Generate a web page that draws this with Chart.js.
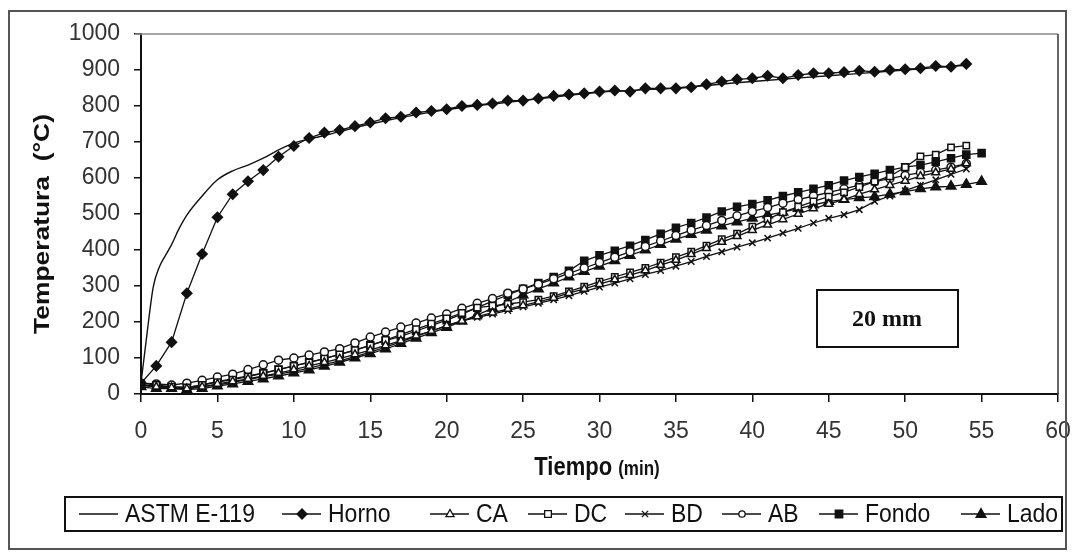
<!DOCTYPE html>
<html>
<head>
<meta charset="utf-8">
<script src="https://cdn.jsdelivr.net/npm/chart.js@4/dist/chart.umd.min.js"></script>
<style>
  html, body { margin: 0; padding: 0; background: #fff; }
  #wrap { width: 1073px; height: 556px; }
</style>
</head>
<body>
<div id="wrap"><canvas id="tempChart" width="1073" height="556"></canvas></div>
<script>
// time axis (min)
const tiempo = [0,1,2,3,4,5,6,7,8,9,10,11,12,13,14,15,16,17,18,19,20,21,22,23,24,25,26,27,
  28,29,30,31,32,33,34,35,36,37,38,39,40,41,42,43,44,45,46,47,48,49,50,51,52,53,54,55];

// standard curve
const astmTiempo = [0,0.4,0.8,1.2,1.7,2,2.5,3,4,5,6,7,8,9,10,12,15,20,25,30,35,40,45,50,54];
const astmTemp = [30,170,297,353,392,415,460,497,550,595,620,636,655,678,697,718,750,790,815,838,850,868,884,900,913];

// furnace and thermocouples (°C)
const horno = [30,78,144,280,389,491,555,591,622,659,689,711,726,733,744,754,766,770,782,786,
  791,800,803,807,815,815,821,828,832,835,840,843,840,849,849,849,852,860,868,874,877,884,877,
  886,891,891,894,898,895,900,902,905,911,909,917];
const ca = [25,20,18,15,20,28,35,42,50,58,68,78,88,98,110,122,135,148,162,175,190,203,215,226,
  236,246,256,267,280,292,305,318,330,343,358,372,388,405,422,438,455,470,485,500,515,528,540,
  555,568,580,592,605,615,625,640];
const dc = [30,25,20,18,25,33,40,48,58,68,78,88,98,110,122,135,150,165,180,195,210,225,240,245,
  250,255,262,272,285,298,312,325,338,350,365,380,395,412,430,445,465,485,505,520,535,548,560,
  575,590,605,630,660,665,685,690];
const bd = [25,20,15,15,20,25,32,40,48,55,63,72,82,92,104,116,130,145,160,175,190,203,213,222,
  232,242,252,262,273,285,297,308,320,332,343,355,368,382,395,408,420,433,447,460,475,488,498,
  512,535,550,565,580,595,610,625];
const ab = [30,28,25,30,38,47,55,68,81,94,100,108,117,126,142,158,172,186,197,211,222,238,252,
  265,280,292,305,320,335,350,365,380,395,410,425,440,455,468,482,495,507,518,530,540,550,560,
  570,580,590,598,607,615,622,630,640];
const fondo = [25,22,20,18,25,35,42,50,58,68,78,88,98,110,122,135,148,160,175,190,205,222,240,
  258,275,292,308,325,342,370,385,398,412,428,445,462,475,490,507,520,528,538,550,560,570,580,
  593,603,612,622,630,636,645,655,665,669];
const lado = [20,15,15,12,15,22,28,35,42,50,58,67,77,88,100,112,125,140,155,170,185,202,220,238,
  256,275,292,308,325,340,355,370,385,400,415,430,443,455,467,478,488,497,505,515,525,535,540,
  545,548,555,562,570,575,577,582,590];

const xTicks = [0,5,10,15,20,25,30,35,40,45,50,55,60];
const yTicks = [0,100,200,300,400,500,600,700,800,900,1000];

function pts(xs, ys) {
  return ys.map((v, i) => ({ x: xs[i], y: v }));
}

function serie(label, values, style, radius, filled) {
  return {
    label: label,
    data: pts(tiempo, values),
    borderColor: "#111",
    borderWidth: 1.3,
    pointStyle: style,
    pointRadius: radius,
    pointBorderColor: "#111",
    pointBorderWidth: 1.5,
    pointBackgroundColor: filled ? "#111" : "#fff",
    tension: 0,
    legendFilled: filled,
  };
}

const datasets = [
  {
    label: "ASTM E-119",
    data: pts(astmTiempo, astmTemp),
    borderColor: "#111",
    borderWidth: 1.4,
    pointRadius: 0,
    cubicInterpolationMode: "monotone",
    pointStyle: false,
  },
  serie("Horno", horno, "rectRot", 5, true),
  serie("CA", ca, "triangle", 4.5, false),
  serie("DC", dc, "rect", 4.5, false),
  serie("BD", bd, "crossRot", 4.5, false),
  serie("AB", ab, "circle", 4, false),
  serie("Fondo", fondo, "rect", 5, true),
  serie("Lado", lado, "triangle", 5.5, true),
];

// legend layout
const legendX = [79, 282, 430, 528, 625, 722, 819, 961];

function drawMarker(ctx, style, x, y, r, filled) {
  ctx.save();
  ctx.lineWidth = 1.3;
  ctx.strokeStyle = "#111";
  ctx.fillStyle = filled ? "#111" : "#fff";
  ctx.beginPath();
  if (style === "rectRot") {
    ctx.moveTo(x, y - r); ctx.lineTo(x + r, y); ctx.lineTo(x, y + r); ctx.lineTo(x - r, y);
    ctx.closePath(); ctx.fill(); ctx.stroke();
  } else if (style === "triangle") {
    ctx.moveTo(x, y - r); ctx.lineTo(x + r * 0.9, y + r * 0.6); ctx.lineTo(x - r * 0.9, y + r * 0.6);
    ctx.closePath(); ctx.fill(); ctx.stroke();
  } else if (style === "rect") {
    const s = r * 0.75;
    ctx.rect(x - s, y - s, 2 * s, 2 * s); ctx.fill(); ctx.stroke();
  } else if (style === "crossRot") {
    const s = r * 0.7;
    ctx.moveTo(x - s, y - s); ctx.lineTo(x + s, y + s);
    ctx.moveTo(x + s, y - s); ctx.lineTo(x - s, y + s); ctx.stroke();
  } else if (style === "circle") {
    ctx.arc(x, y, r * 0.8, 0, Math.PI * 2); ctx.fill(); ctx.stroke();
  }
  ctx.restore();
}

const decor = {
  id: "decor",
  afterDraw(chart) {
    const ctx = chart.ctx;
    const a = chart.chartArea;
    ctx.save();

    // outer frame
    ctx.strokeStyle = "#555";
    ctx.lineWidth = 2;
    ctx.strokeRect(9, 11, 1057, 538);

    // plot area border (top / right)
    ctx.lineWidth = 1.5;
    ctx.strokeStyle = "#888";
    ctx.beginPath(); ctx.moveTo(a.left - 6, a.top); ctx.lineTo(a.right, a.top); ctx.stroke();
    ctx.strokeStyle = "#333";
    ctx.beginPath(); ctx.moveTo(a.right, a.top); ctx.lineTo(a.right, a.bottom); ctx.stroke();

    // thickness label box
    ctx.lineWidth = 2;
    ctx.strokeStyle = "#111";
    ctx.strokeRect(817, 290, 141, 57);
    ctx.fillStyle = "#111";
    ctx.font = "bold 24px 'Liberation Serif', 'DejaVu Serif', serif";
    ctx.textAlign = "center";
    ctx.textBaseline = "middle";
    ctx.fillText("20 mm", 887, 320);

    // y title (stretched along its length like the scanned original)
    ctx.save();
    ctx.translate(43, 224);
    ctx.rotate(-Math.PI / 2);
    ctx.scale(1.2, 1);
    ctx.font = "bold 22px 'Liberation Sans', Arial, sans-serif";
    ctx.fillText("Temperatura  (°C)", 0, 0);
    ctx.restore();

    // x title
    ctx.save();
    ctx.translate(0, 468);
    ctx.scale(1, 1.15);
    ctx.textAlign = "left";
    ctx.font = "bold 22px 'Liberation Sans', Arial, sans-serif";
    const w1 = ctx.measureText("Tiempo ").width;
    ctx.font = "bold 17px 'Liberation Sans', Arial, sans-serif";
    const w2 = ctx.measureText("(min)").width;
    const x0 = 597 - (w1 + w2) / 2;
    ctx.font = "bold 22px 'Liberation Sans', Arial, sans-serif";
    ctx.fillText("Tiempo ", x0, 0);
    ctx.font = "bold 17px 'Liberation Sans', Arial, sans-serif";
    ctx.fillText("(min)", x0 + w1, 1);
    ctx.restore();

    // legend
    ctx.lineWidth = 2;
    ctx.strokeStyle = "#111";
    ctx.strokeRect(65, 497, 997, 34);
    const ly = 514;
    chart.data.datasets.forEach((ds, i) => {
      const lx = legendX[i];
      ctx.strokeStyle = "#111";
      ctx.lineWidth = 1.6;
      ctx.beginPath(); ctx.moveTo(lx, ly); ctx.lineTo(lx + 39, ly); ctx.stroke();
      if (ds.pointStyle) {
        drawMarker(ctx, ds.pointStyle, lx + 20, ly, ds.pointRadius, ds.legendFilled);
      }
      ctx.save();
      ctx.translate(lx + 46, ly + 1);
      ctx.scale(1, 1.15);
      ctx.font = "23px 'Liberation Sans', Arial, sans-serif";
      ctx.fillStyle = "#111";
      ctx.textAlign = "left";
      ctx.textBaseline = "middle";
      ctx.fillText(ds.label, 0, 0);
      ctx.restore();
    });

    ctx.restore();
  },
};

const tickFont = { family: "'Liberation Sans', Arial, sans-serif", size: 23 };

const ctx = document.getElementById("tempChart").getContext("2d");
const tempChart = new Chart(ctx, {
  type: "line",
  data: { datasets: datasets },
  options: {
    responsive: false,
    animation: false,
    layout: { padding: { left: 0, top: 34, right: 15, bottom: 106 } },
    plugins: {
      legend: { display: false },
      tooltip: { enabled: false },
    },
    scales: {
      x: {
        type: "linear",
        min: 0,
        max: 60,
        afterBuildTicks: (scale) => { scale.ticks = xTicks.map((v) => ({ value: v })); },
        afterFit: (scale) => {
          scale.height = 56;
          scale.paddingLeft = 0;
          scale.paddingRight = 0;
        },
        grid: { drawOnChartArea: false, tickLength: 8, color: "#111", lineWidth: 1.5 },
        border: { color: "#111", width: 2 },
        ticks: {
          color: "#333",
          padding: 16,
          maxRotation: 0,
          font: tickFont,
          callback: (v) => String(v),
        },
      },
      y: {
        min: 0,
        max: 1000,
        afterBuildTicks: (scale) => { scale.ticks = yTicks.map((v) => ({ value: v })); },
        afterFit: (scale) => {
          scale.width = 141;
          scale.paddingTop = 0;
          scale.paddingBottom = 0;
        },
        grid: { drawOnChartArea: false, tickLength: 7, color: "#111", lineWidth: 1.5 },
        border: { color: "#111", width: 2 },
        ticks: {
          color: "#333",
          padding: 14,
          font: tickFont,
          callback: (v) => String(v),
        },
      },
    },
  },
  plugins: [decor],
});
</script>
</body>
</html>
